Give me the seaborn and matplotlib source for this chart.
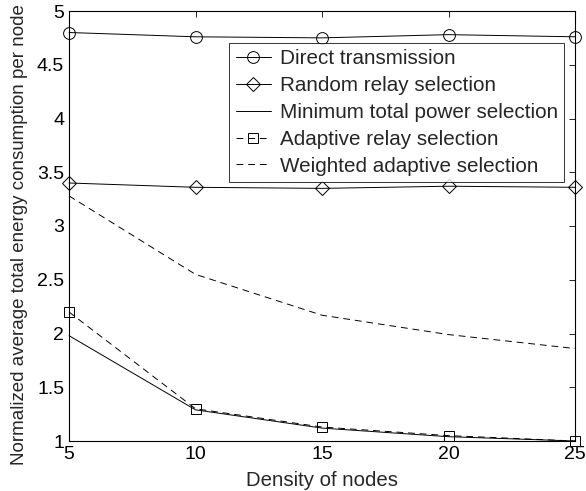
import matplotlib
matplotlib.use("Agg")
import matplotlib.pyplot as plt
import seaborn as sns
import pandas as pd

density = [5, 10, 15, 20, 25]
direct = [4.80, 4.76, 4.75, 4.78, 4.76]
random_relay = [3.40, 3.36, 3.35, 3.37, 3.36]
min_power = [1.98, 1.29, 1.12, 1.04, 1.00]
adaptive = [2.20, 1.30, 1.13, 1.05, 1.00]
weighted = [3.28, 2.55, 2.17, 1.99, 1.86]

labels = ["Direct transmission", "Random relay selection",
          "Minimum total power selection", "Adaptive relay selection",
          "Weighted adaptive selection"]
series = [direct, random_relay, min_power, adaptive, weighted]

sns.set_theme(style="white")
plt.rcParams['font.family'] = ['Liberation Sans', 'DejaVu Sans']

fig = plt.figure(figsize=(5.86, 4.91), dpi=100)
ax = fig.add_axes([69/586, 1-441/491, (575-69)/586, (441-11)/491])

dash = (0, (7, 5))
styles = [
    dict(marker='o', linestyle='-', markersize=8.5),
    dict(marker='D', linestyle='-', markersize=7.5),
    dict(marker=None, linestyle='-'),
    dict(marker='s', linestyle=dash, markersize=7),
    dict(marker=None, linestyle=dash),
]

for lab, vals, st in zip(labels, series, styles):
    df = pd.DataFrame({"x": density, "y": vals})
    kw = dict(color='black', linewidth=0.7, linestyle=st['linestyle'], clip_on=False)
    if st['marker']:
        kw.update(marker=st['marker'], markersize=st['markersize'],
                  markerfacecolor='none', markeredgecolor='black',
                  markeredgewidth=0.7)
    sns.lineplot(data=df, x="x", y="y", ax=ax, label=lab, **kw)

ax.set_xlim(5, 25)
ax.set_ylim(1, 5)
ax.set_xticks([5, 10, 15, 20, 25])
ax.set_yticks([1, 1.5, 2, 2.5, 3, 3.5, 4, 4.5, 5])
ax.set_yticklabels(["1", "1.5", "2", "2.5", "3", "3.5", "4", "4.5", "5"])
ax.set_xlabel("Density of nodes", fontsize=14.7, labelpad=5.5)
ax.set_ylabel("Normalized average total energy consumption per node", fontsize=13.5)
ax.yaxis.set_label_coords(-0.081, 0.481)
ax.tick_params(direction='in', length=4, width=0.6, top=True, right=True,
               labelsize=14, pad=3.5, colors='black')
for sp in ax.spines.values():
    sp.set_color('black')
    sp.set_linewidth(0.8)

leg = ax.legend(loc='upper right', bbox_to_anchor=((564-69)/506, (441-43)/430),
                frameon=True, fancybox=False, fontsize=14.9, handlelength=1.7,
                handletextpad=0.43, borderpad=0.3, labelspacing=0.38, borderaxespad=0)
leg.get_frame().set_edgecolor('black')
leg.get_frame().set_linewidth(0.7)
leg.set_zorder(5)

fig.savefig("out.png", dpi=100)
